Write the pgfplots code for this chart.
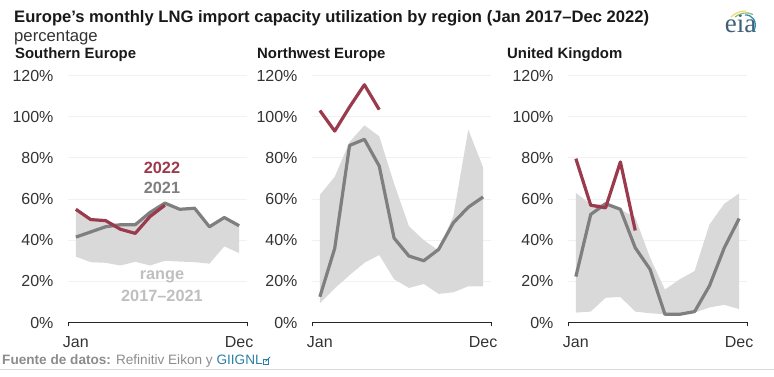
\documentclass[border=0pt]{standalone}
\usepackage{pgfplots}
\pgfplotsset{compat=1.18}
\usepackage{fontspec}
\setmainfont{Liberation Sans}
\newfontfamily\eiafont{Liberation Serif}
\definecolor{rangec}{HTML}{D9D9D9}
\definecolor{y21}{HTML}{7F7F7F}
\definecolor{y22}{HTML}{9A3A4C}
\definecolor{gridc}{HTML}{F1F1F1}
\definecolor{txt}{HTML}{333333}
\definecolor{rlab}{HTML}{BFBFBF}
\definecolor{link}{HTML}{2B7FA8}
\definecolor{srcc}{HTML}{8C8C8C}
\definecolor{eiab}{HTML}{3F5E78}
\definecolor{eiay}{HTML}{E8D96A}
\definecolor{eiag}{HTML}{8DBB6A}
\definecolor{eiac}{HTML}{2E8FB5}
\pgfplotsset{
  panel/.style={
    scale only axis, width=179pt, height=247pt,
    anchor=origin,
    ymin=0, ymax=120, xmin=0.47, xmax=12.53,
    ytick=\empty,
    xtick={0.47,12.53},
    xticklabels={},
    extra x ticks={1,12},
    extra x tick labels={Jan,Dec},
    extra x tick style={major tick length=0pt, grid=none,
      xticklabel style={yshift=-10pt,font=\fontsize{16}{16}\selectfont,text=txt}},
    axis x line*=bottom, axis y line=none,
    x axis line style={black!85,line width=0.9pt,-},
    xtick style={black!85,line width=0.9pt},
    xtick align=outside, major tick length=4pt,
    clip=false,
  },
  ln21/.style={y21,line width=3.2pt,line join=round},
  ln22/.style={y22,line width=3.2pt,line join=round},
}
\newcommand{\grid}{%
  \pgfplotsinvokeforeach{20,40,...,120}{\addplot[gridc,line width=0.9pt,forget plot] coordinates {(0.47,##1) (12.53,##1)};}}
\newcommand{\ylabs}{%
  \pgfplotsinvokeforeach{0,20,...,120}{\node[anchor=east,font=\fontsize{16}{16}\selectfont,text=txt,xshift=-11pt] at (axis cs:0.47,##1) {##1\%};}}
\begin{document}
\begin{tikzpicture}[x=1pt,y=1pt]
\path[use as bounding box] (0,0) rectangle (774,377);
\node[anchor=base west,inner sep=0pt,font=\bfseries\fontsize{16.6}{17}\selectfont,text=black!90] at (14,354) {Europe's monthly LNG import capacity utilization by region (Jan 2017–Dec 2022)};
\node[anchor=base west,inner sep=0pt,font=\fontsize{16.7}{17}\selectfont,text=txt] at (14,335) {percentage};
\node[anchor=base west,inner sep=0pt,font=\bfseries\fontsize{14.9}{15}\selectfont,text=black!90] at (15,318) {Southern Europe};
\node[anchor=base west,inner sep=0pt,font=\bfseries\fontsize{14.9}{15}\selectfont,text=black!90] at (257,318) {Northwest Europe};
\node[anchor=base west,inner sep=0pt,font=\bfseries\fontsize{14.9}{15}\selectfont,text=black!90] at (507,318) {United Kingdom};
% Southern Europe
\begin{axis}[panel,at={(68pt,54.5pt)}]
\grid
\addplot[fill=rangec,draw=none] coordinates {(1,55)(2,50)(3,49.5)(4,47.5)(5,47.5)(6,54)(7,58)(8,55)(9,55.5)(10,46.5)(11,51)(12,47)(12,33.7)(11,37)(10,28.6)(9,29.3)(8,29.6)(7,30)(6,27.7)(5,29.5)(4,27.7)(3,29)(2,29.3)(1,32)} -- cycle;
\addplot[ln21] coordinates {(1,41.5)(2,44)(3,46.5)(4,47.5)(5,47.5)(6,53.5)(7,58)(8,55)(9,55.5)(10,46.5)(11,51)(12,47)};
\addplot[ln22] coordinates {(1,55)(2,50)(3,49.5)(4,45.3)(5,43.3)(6,51.5)(7,57)};
\ylabs
\node[font=\bfseries\fontsize{16.3}{16}\selectfont,text=y22] at (axis cs:6.8,75.2) {2022};
\node[font=\bfseries\fontsize{16.3}{16}\selectfont,text=y21] at (axis cs:6.8,65.5) {2021};
\node[font=\bfseries\fontsize{16.3}{16}\selectfont,text=rlab] at (axis cs:6.8,22) {range};
\node[font=\bfseries\fontsize{16.3}{16}\selectfont,text=rlab] at (axis cs:6.8,13) {2017–2021};
\end{axis}
% Northwest Europe
\begin{axis}[panel,at={(312pt,54.5pt)}]
\grid
\addplot[fill=rangec,draw=none] coordinates {(1,62)(2,70.8)(3,87.7)(4,95.8)(5,90.5)(6,67.5)(7,46.8)(8,40)(9,35)(10,52)(11,93.7)(12,75.3)(12,17.6)(11,17.6)(10,14.7)(9,13.9)(8,18.7)(7,16.8)(6,21)(5,32.8)(4,29)(3,23)(2,16.6)(1,9.4)} -- cycle;
\addplot[ln21] coordinates {(1,12.5)(2,36)(3,86)(4,89)(5,76)(6,41)(7,32.3)(8,30)(9,35.5)(10,48.5)(11,56)(12,61)};
\addplot[ln22] coordinates {(1,103)(2,93)(3,104.7)(4,115.5)(5,103.4)};
\ylabs
\end{axis}
% United Kingdom
\begin{axis}[panel,at={(568pt,54.5pt)}]
\grid
\addplot[fill=rangec,draw=none] coordinates {(1,63)(2,57.4)(3,57.7)(4,55)(5,51)(6,31.5)(7,16)(8,21)(9,25)(10,47.6)(11,57.7)(12,62.7)(12,6.5)(11,8.6)(10,7.3)(9,4.8)(8,4)(7,4)(6,4.5)(5,5.3)(4,12.4)(3,12)(2,5.3)(1,4.8)} -- cycle;
\addplot[ln21] coordinates {(1,22.3)(2,52.5)(3,57.7)(4,55)(5,36.3)(6,25.8)(7,4)(8,4)(9,5.3)(10,17.8)(11,36.3)(12,50.5)};
\addplot[ln22] coordinates {(1,79.6)(2,57)(3,55.7)(4,78)(5,44.7)};
\ylabs
\end{axis}
% source
\node[anchor=base west,inner sep=0pt,font=\fontsize{13.6}{14}\selectfont,text=srcc] at (2,12) {\textbf{Fuente de datos:} Refinitiv Eikon y \textcolor{link}{GIIGNL}};
\draw[link,line width=0.8pt] (263,12.5) rectangle (268.5,18);
\draw[link,line width=0.9pt] (265.5,15.5) -- (270,20);
\draw[black!15,line width=0.8pt] (0,8) -- (774,8);
% logo
\node[anchor=base,inner sep=0pt,font=\eiafont\fontsize{27}{27}\selectfont,text=eiab] at (740.5,344) {eia};
\draw[eiay,line width=1.1pt] (731,360) .. controls (735,364) and (740,366) .. (746,366);
\draw[eiag,line width=1.2pt] (735,360) .. controls (740,364) and (747,365.5) .. (753,362.5);
\draw[eiac,line width=1.3pt] (745,362) .. controls (752,362.5) and (758,356) .. (754,346);
\end{tikzpicture}
\end{document}
